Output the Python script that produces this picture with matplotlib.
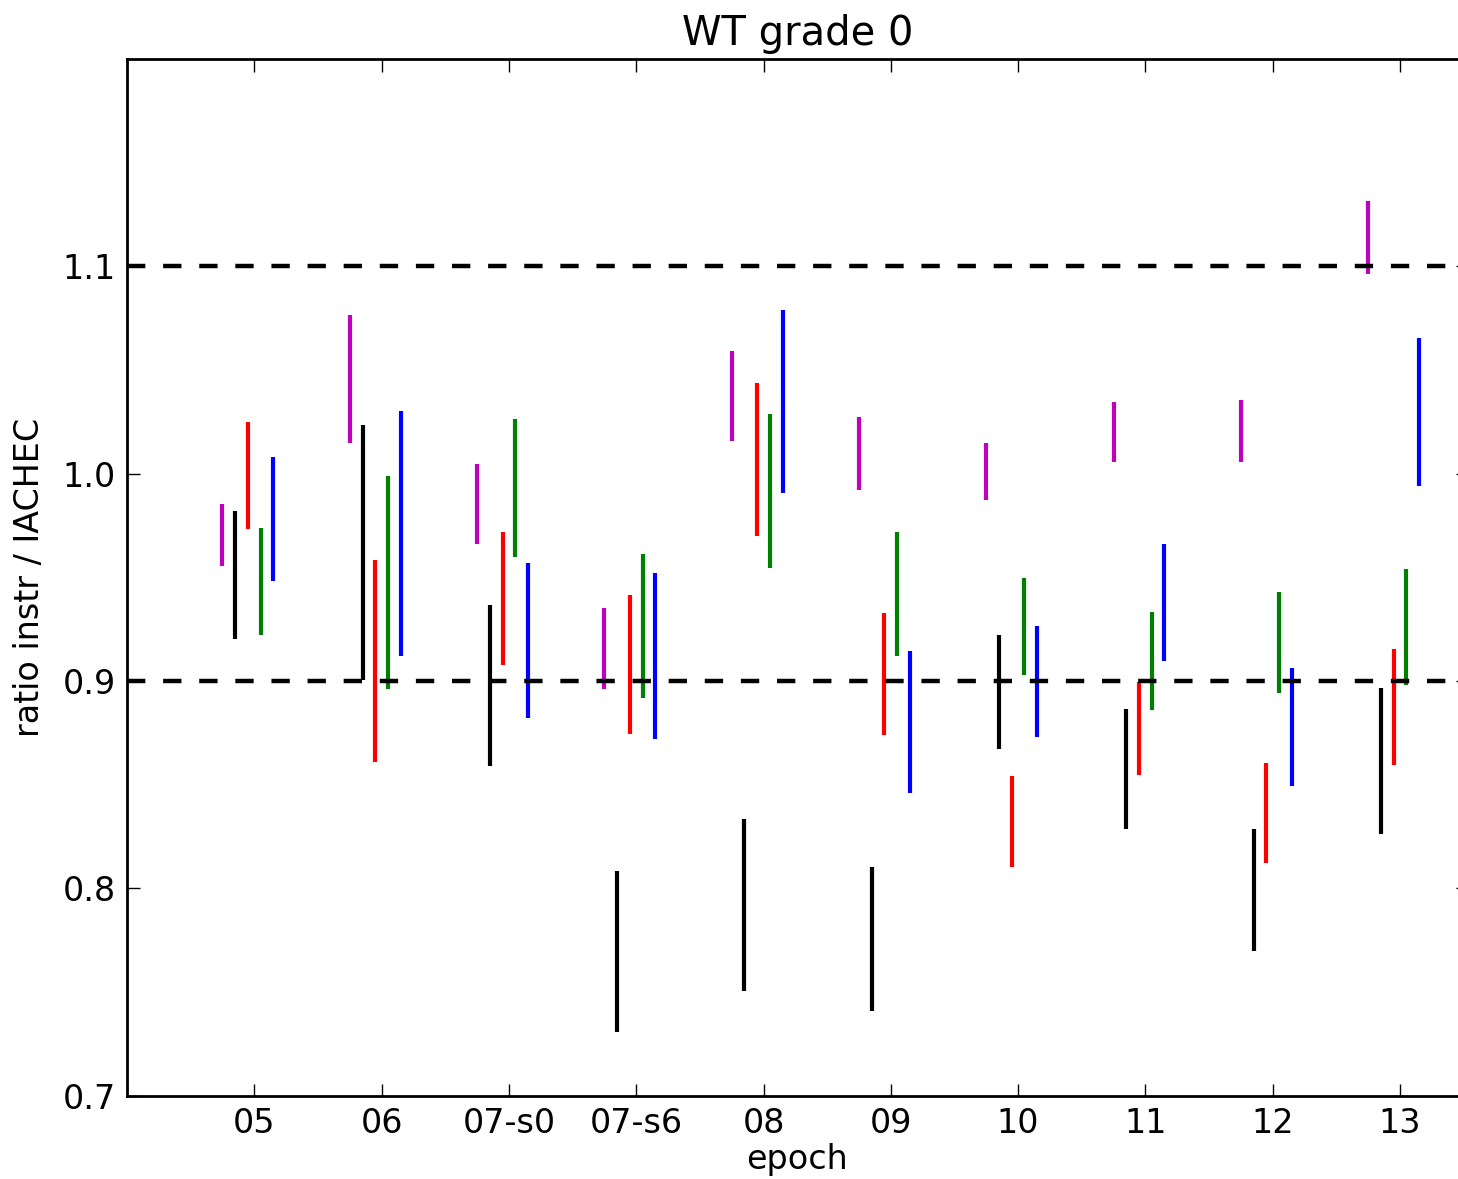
import matplotlib
matplotlib.use("Agg")
import matplotlib.pyplot as plt
import numpy as np

# Epoch labels along the x axis
epochs = ["05", "06", "07-s0", "07-s6", "08", "09", "10", "11", "12", "13"]

# Ratio ranges (lower, upper) per instrument, one entry per epoch
magenta_lo = [0.9555, 1.0148, 0.9663, 0.8962, 1.0160, 0.9919, 0.9871, 1.0054, 1.0054, 1.0961]
magenta_hi = [0.9852, 1.0763, 1.0045, 0.9353, 1.0593, 1.0271, 1.0146, 1.0344, 1.0353, 1.1314]

black_lo = [0.9202, 0.9003, 0.8592, 0.7307, 0.7505, 0.7410, 0.8670, 0.8284, 0.7700, 0.8262]
black_hi = [0.9822, 1.0237, 0.9369, 0.8083, 0.8333, 0.8105, 0.9220, 0.8864, 0.8288, 0.8968]

red_lo = [0.9733, 0.8610, 0.9075, 0.8743, 0.9700, 0.8742, 0.8105, 0.8546, 0.8124, 0.8597]
red_hi = [1.0247, 0.9582, 0.9721, 0.9416, 1.0436, 0.9326, 0.8544, 0.8994, 0.8606, 0.9156]

green_lo = [0.9222, 0.8963, 0.9596, 0.8920, 0.9544, 0.9123, 0.9031, 0.8860, 0.8943, 0.8983]
green_hi = [0.9737, 0.9987, 1.0262, 0.9614, 1.0290, 0.9721, 0.9495, 0.9335, 0.9427, 0.9541]

blue_lo = [0.9480, 0.9119, 0.8824, 0.8719, 0.9909, 0.8462, 0.8732, 0.9098, 0.8495, 0.9940]
blue_hi = [1.0080, 1.0300, 0.9567, 0.9520, 1.0790, 0.9147, 0.9263, 0.9659, 0.9061, 1.0654]

# Acceptance band
band_levels = [0.9, 1.1]

plt.rcParams.update({
    "font.family": ["DejaVu Sans"],
    "font.size": 12,
    "axes.linewidth": 1.0,
    "xtick.direction": "in",
    "ytick.direction": "in",
    "xtick.major.size": 4.5,
    "ytick.major.size": 4.5,
    "xtick.major.width": 0.5,
    "ytick.major.width": 0.5,
    "xtick.major.pad": 4,
    "ytick.major.pad": 4,
    "xtick.top": True,
    "ytick.right": True,
    "lines.scale_dashes": False,
})

W, H = 1458, 1179
fig = plt.figure(figsize=(W / 200, H / 200), dpi=200)
left_px, right_px, top_px, bottom_px = 127, 1468, 59, 1095.7
ax = fig.add_axes([left_px / W, 1 - bottom_px / H,
                   (right_px - left_px) / W, (bottom_px - top_px) / H])

x = np.arange(len(epochs))
series = [
    (magenta_lo, magenta_hi, (0.75, 0, 0.75), -0.25),
    (black_lo, black_hi, "k", -0.15),
    (red_lo, red_hi, "r", -0.05),
    (green_lo, green_hi, (0, 0.5, 0), 0.05),
    (blue_lo, blue_hi, "b", 0.15),
]
for lo, hi, color, off in series:
    ax.vlines(x + off, lo, hi, colors=color, linewidth=1.5, zorder=2)

for level in band_levels:
    ax.axhline(level, color="k", linewidth=1.6, linestyle=(0, (6.6, 6.4)), zorder=3)

# one epoch step spans about 127.3 px
ax.set_xlim(-1, -1 + (right_px - left_px) / 127.3)
ax.set_ylim(0.7, 1.2)
ax.set_xticks(x)
ax.set_xticklabels(epochs)
ax.set_yticks([0.7, 0.8, 0.9, 1.0, 1.1])
ax.set_yticklabels(["0.7", "0.8", "0.9", "1.0", "1.1"])
ax.tick_params(labelsize=12)

ax.set_title("WT grade 0", fontsize=14.4, pad=5)
ax.set_xlabel("epoch", fontsize=12, labelpad=1)
ax.set_ylabel("ratio instr / IACHEC", fontsize=12, labelpad=6)

fig.savefig("out.png", dpi=200, facecolor="white")
